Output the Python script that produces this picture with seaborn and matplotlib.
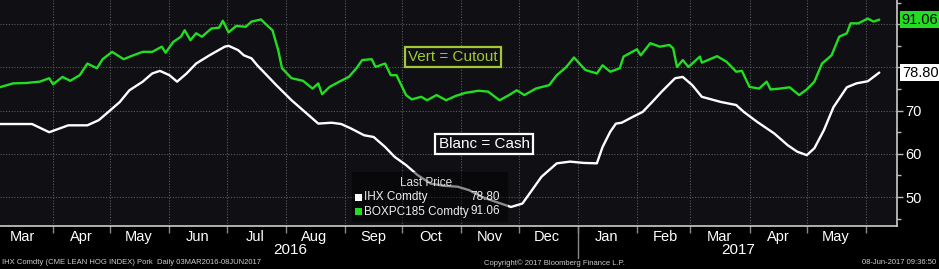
import matplotlib
matplotlib.use("Agg")
import matplotlib.pyplot as plt
import matplotlib.dates as mdates
import matplotlib.transforms as mtransforms
from matplotlib.patches import Rectangle
import seaborn as sns
import pandas as pd

# ---------------- data ----------------
cash_dates = ["2016-03-04","2016-03-21","2016-03-30","2016-04-09","2016-04-19","2016-04-25","2016-04-30",
              "2016-05-06","2016-05-11","2016-05-18","2016-05-23","2016-05-27","2016-06-01","2016-06-05",
              "2016-06-10","2016-06-15","2016-06-22","2016-06-30","2016-07-02","2016-07-07","2016-07-10",
              "2016-07-14","2016-07-17","2016-07-22","2016-07-27","2016-08-04","2016-08-11","2016-08-18",
              "2016-08-25","2016-08-30","2016-09-04","2016-09-11","2016-09-16","2016-09-22","2016-09-27",
              "2016-10-03","2016-10-09","2016-10-16","2016-10-23","2016-10-30","2016-11-05","2016-11-12",
              "2016-11-19","2016-11-27","2016-12-03","2016-12-08","2016-12-13","2016-12-21","2016-12-28",
              "2017-01-04","2017-01-11","2017-01-14","2017-01-18","2017-01-21","2017-01-24","2017-01-30",
              "2017-02-04","2017-02-09","2017-02-14","2017-02-21","2017-02-25","2017-03-02","2017-03-07",
              "2017-03-12","2017-03-17","2017-03-25","2017-03-29","2017-04-05","2017-04-14","2017-04-21",
              "2017-04-26","2017-05-01","2017-05-05","2017-05-10","2017-05-15","2017-05-22","2017-05-27",
              "2017-06-02","2017-06-05","2017-06-08"]
cash_values = [66.9, 66.9, 65.0, 66.6, 66.6, 67.8, 69.7,
               72.0, 74.7, 76.7, 78.6, 79.2, 78.2, 76.7,
               78.6, 80.9, 82.8, 84.8, 85.0, 84.0, 82.8,
               82.1, 80.5, 78.2, 75.9, 72.4, 69.7, 67.0,
               67.2, 66.9, 65.9, 64.3, 63.9, 61.6, 59.3,
               57.4, 55.1, 53.1, 52.6, 52.4, 51.6, 50.0,
               48.9, 47.7, 48.5, 51.6, 54.7, 57.8, 58.2,
               57.9, 57.8, 61.6, 65.1, 67.0, 67.2, 68.6,
               69.7, 72.0, 74.4, 77.5, 77.8, 75.9, 73.2,
               72.6, 72.0, 71.3, 69.7, 67.4, 64.7, 62.0,
               60.5, 59.7, 61.3, 65.5, 70.8, 75.4, 76.3,
               76.8, 77.8, 78.80]

cutout_dates = ["2016-03-04","2016-03-11","2016-03-18","2016-03-25","2016-03-30","2016-04-01","2016-04-06",
                "2016-04-10","2016-04-15","2016-04-19","2016-04-24","2016-04-27","2016-05-02","2016-05-08",
                "2016-05-13","2016-05-18","2016-05-23","2016-05-28","2016-05-30","2016-06-03","2016-06-07",
                "2016-06-09","2016-06-12","2016-06-15","2016-06-18","2016-06-23","2016-06-27","2016-06-29",
                "2016-07-02","2016-07-06","2016-07-11","2016-07-14","2016-07-19","2016-07-22","2016-07-25",
                "2016-07-28","2016-07-30","2016-08-04","2016-08-10","2016-08-15","2016-08-18","2016-08-20",
                "2016-08-24","2016-08-29","2016-09-03","2016-09-07","2016-09-10","2016-09-15","2016-09-17",
                "2016-09-22","2016-09-25","2016-09-28","2016-10-03","2016-10-06","2016-10-11","2016-10-14",
                "2016-10-19","2016-10-24","2016-10-29","2016-11-03","2016-11-10","2016-11-15","2016-11-21",
                "2016-11-26","2016-11-30","2016-12-04","2016-12-10","2016-12-17","2016-12-21","2016-12-26",
                "2016-12-30","2017-01-05","2017-01-11","2017-01-14","2017-01-18","2017-01-23","2017-01-25",
                "2017-02-01","2017-02-03","2017-02-08","2017-02-13","2017-02-18","2017-02-20","2017-02-22",
                "2017-02-25","2017-02-28","2017-03-06","2017-03-07","2017-03-15","2017-03-20","2017-03-25",
                "2017-03-28","2017-04-01","2017-04-06","2017-04-10","2017-04-12","2017-04-17","2017-04-22",
                "2017-04-27","2017-05-01","2017-05-05","2017-05-09","2017-05-14","2017-05-18","2017-05-22",
                "2017-05-24","2017-05-28","2017-06-02","2017-06-05","2017-06-08"]
cutout_values = [75.4, 76.3, 76.4, 76.7, 77.5, 76.1, 77.8,
                 76.9, 78.2, 80.9, 79.8, 81.9, 83.6, 81.9,
                 82.8, 83.6, 83.6, 84.8, 83.4, 85.9, 87.1,
                 88.6, 86.3, 87.9, 87.1, 89.0, 89.2, 90.8,
                 88.1, 89.6, 89.4, 90.6, 91.1, 89.8, 88.6,
                 84.0, 79.8, 77.5, 76.9, 75.1, 76.3, 73.8,
                 75.5, 76.7, 77.8, 79.8, 81.7, 81.9, 80.1,
                 80.9, 78.2, 78.2, 73.6, 72.6, 73.2, 72.4,
                 73.6, 72.4, 73.4, 74.1, 74.6, 74.4, 72.4,
                 73.6, 74.7, 73.6, 75.1, 75.9, 78.2, 80.1,
                 82.3, 79.4, 78.6, 80.5, 79.0, 79.8, 82.5,
                 84.2, 82.8, 85.6, 84.8, 85.2, 84.4, 80.1,
                 81.7, 80.1, 82.5, 81.1, 82.6, 81.3, 79.0,
                 79.2, 75.5, 75.1, 76.7, 74.9, 75.1, 75.4,
                 73.6, 74.9, 76.7, 80.9, 82.8, 87.1, 87.9,
                 90.2, 90.2, 91.3, 90.6, 91.06]

series_names = ["IHX Comdty", "BOXPC185 Comdty"]
last_values = ["78.80", "91.06"]
y_ticks = [50, 60, 70, 80, 90]
y_tick_labels = ["50", "60", "70", "", ""]   # 80 and 90 are hidden behind the last-value boxes
y_minor_ticks = [45, 55, 65, 75, 85, 95]
year_labels = ["2016", "2017"]

# ---------------- style ----------------
sns.set_style("dark")
plt.rcParams['font.family'] = ['Liberation Sans', 'DejaVu Sans']

WHITE = "#ffffff"
GREEN = "#22dd22"
YGREEN = "#a2c935"

df_cash = pd.DataFrame({"date": pd.to_datetime(cash_dates), "value": cash_values})
df_cut = pd.DataFrame({"date": pd.to_datetime(cutout_dates), "value": cutout_values})

W, H = 939, 269
fig = plt.figure(figsize=(W / 100, H / 100), dpi=100, facecolor="black")
ax = fig.add_axes([0, 43 / H, 897 / W, 226 / H])
ax.set_facecolor("#0f0f14")

sns.lineplot(data=df_cash, x="date", y="value", color=WHITE, lw=1.7, ax=ax, zorder=2)
sns.lineplot(data=df_cut, x="date", y="value", color=GREEN, lw=1.7, ax=ax, zorder=2)

ax.set_xlim(pd.Timestamp("2016-03-04 05:00"), pd.Timestamp("2017-06-17 07:00"))
ax.set_ylim(43.3, 95.6)
ax.set_xlabel("")
ax.set_ylabel("")

# y axis on right
ax.yaxis.tick_right()
ax.set_yticks(y_ticks)
ax.set_yticks(y_minor_ticks, minor=True)
ax.set_yticklabels(y_tick_labels)
ax.tick_params(axis="y", which="major", right=True, left=False, direction="out", length=4,
               width=1, color="#bbbbbb", labelcolor=WHITE, labelsize=10.5, pad=2)
ax.tick_params(axis="y", which="minor", right=True, left=False, direction="out", length=3,
               width=1, color="#bbbbbb")

# x axis: month boundaries as major ticks, labels at mid-month
month_starts = pd.date_range("2016-04-01", "2017-06-01", freq="MS")
mid_months = pd.date_range("2016-03-01", "2017-05-01", freq="MS") + pd.Timedelta(days=15)
ax.set_xticks(month_starts)
ax.set_xticklabels([""] * len(month_starts))
ax.set_xticks(mid_months, minor=True)
ax.set_xticklabels([d.strftime("%b") for d in mid_months], minor=True)
ax.tick_params(axis="x", which="major", bottom=True, direction="out", length=5, width=1,
               color="#888888")
ax.tick_params(axis="x", which="minor", bottom=True, length=0, labelcolor=WHITE,
               labelsize=10.5, pad=3)

ax.grid(True, which="major", axis="both", color="#5c5c5c", linestyle=(0, (1, 1.5)), lw=0.8)
ax.grid(False, which="minor")

for s in ["top", "left"]:
    ax.spines[s].set_visible(False)
for s in ["bottom", "right"]:
    ax.spines[s].set_visible(True)
    ax.spines[s].set_color("#cccccc")
    ax.spines[s].set_linewidth(1.2)

# year labels and separator
fig.text(290 / W, 1 - 250 / H, year_labels[0], color=WHITE, fontsize=11, ha="center", va="center")
fig.text(738 / W, 1 - 250 / H, year_labels[1], color=WHITE, fontsize=11, ha="center", va="center")
trans = mtransforms.blended_transform_factory(ax.transData, fig.transFigure)
jan1 = mdates.date2num(pd.Timestamp("2017-01-01"))
ax.plot([jan1, jan1], [43 / H, 11 / H], transform=trans, color="#888888", lw=1, clip_on=False)

# annotations
def axpos(px, py):
    return px / 897, 1 - py / 226

x, y = axpos(453, 57)
ax.text(x, y, "Vert = Cutout", transform=ax.transAxes, color=YGREEN, fontsize=11,
        ha="center", va="center", zorder=5,
        bbox=dict(boxstyle="square,pad=0.22", fc="#0f0f14", ec=YGREEN, lw=1.6))
x, y = axpos(484, 144)
ax.text(x, y, "Blanc = Cash", transform=ax.transAxes, color=WHITE, fontsize=11,
        ha="center", va="center", zorder=5,
        bbox=dict(boxstyle="square,pad=0.22", fc="#0f0f14", ec=WHITE, lw=1.6))

# legend block
x0, y0 = axpos(352, 222)
x1, y1 = axpos(508, 172)
ax.add_patch(Rectangle((x0, y0), x1 - x0, y1 - y0, transform=ax.transAxes,
                       fc="black", ec="none", alpha=0.45, zorder=3))
x, y = axpos(426, 183)
ax.text(x, y, "Last Price", transform=ax.transAxes, color="#dddddd", fontsize=8.5,
        ha="center", va="center", zorder=4)
for i, (name, val, col) in enumerate(zip(series_names, last_values, [WHITE, GREEN])):
    py = 197 + 14.5 * i
    sx, sy = axpos(355, py + 3.5)
    ax.add_patch(Rectangle((sx, sy), 7 / 897, 7 / 226, transform=ax.transAxes,
                           fc=col, ec="none", zorder=4))
    tx, ty = axpos(364, py)
    ax.text(tx, ty, name, transform=ax.transAxes, color="#eeeeee", fontsize=8.5,
            ha="left", va="center", zorder=4)
    vx, vy = axpos(500, py)
    ax.text(vx, vy, val, transform=ax.transAxes, color="#eeeeee", fontsize=8.5,
            ha="right", va="center", zorder=4)

# last value boxes on right axis
for val, fc in zip(last_values, [WHITE, GREEN]):
    ax.annotate(val, xy=(1, float(val)), xycoords=("axes fraction", "data"),
                xytext=(3.5, 0), textcoords="offset points", ha="left", va="center",
                fontsize=10.5, color="black", zorder=6, annotation_clip=False,
                bbox=dict(boxstyle="square,pad=0.12", fc=fc, ec="none"))

# footer
fig.text(2 / W, 1 - 263 / H, "IHX Comdty (CME LEAN HOG INDEX) Pork  Daily 03MAR2016-08JUN2017",
         color="#cccccc", fontsize=5.5, ha="left", va="center")
fig.text(484 / W, 1 - 263 / H, "Copyright\u00a9 2017 Bloomberg Finance L.P.",
         color="#cccccc", fontsize=5.5, ha="left", va="center")
fig.text(936 / W, 1 - 263 / H, "08-Jun-2017 09:36:50",
         color="#cccccc", fontsize=5.5, ha="right", va="center")

fig.savefig("out.png", dpi=100, facecolor="black")
